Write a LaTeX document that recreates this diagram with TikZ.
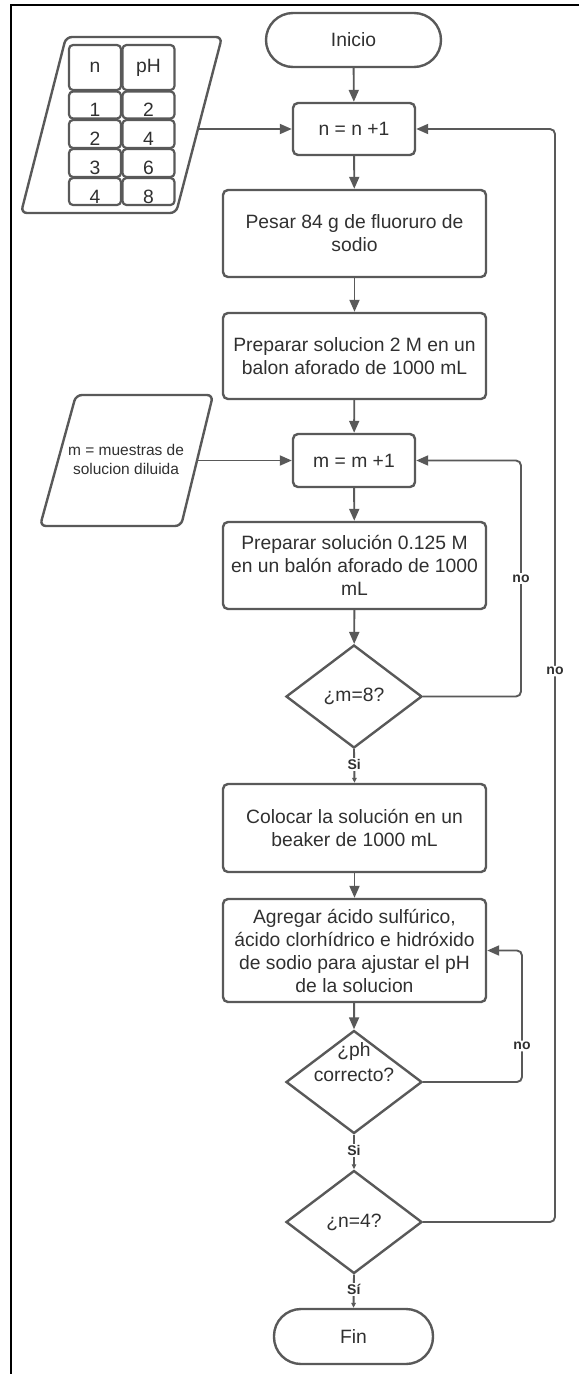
\documentclass[tikz,border=0pt]{standalone}
\usepackage{fontspec}
\setmainfont{Liberation Sans}
\usetikzlibrary{shapes.geometric,arrows.meta}
\definecolor{ink}{HTML}{303030}
\definecolor{edge}{HTML}{595959}
\begin{document}
\begin{tikzpicture}[x=1pt,y=-1pt,
  every node/.style={text=ink, font=\fontsize{19.3}{23}\selectfont},
  proc/.style={draw=edge, line width=2.4pt, rounded corners=5pt, align=center, inner sep=0pt},
  wide/.style={proc, minimum width=263pt},
  small/.style={proc, minimum width=122pt, minimum height=52pt},
  term/.style={draw=edge, line width=2.4pt, rounded corners=27pt, minimum height=54pt, inner sep=0pt},
  dec/.style={draw=edge, line width=2.4pt, diamond, aspect=1.32, minimum width=136pt, minimum height=103pt, inner sep=0pt},
  cell/.style={draw=edge, line width=2.2pt, rounded corners=4pt, minimum width=52pt, inner sep=0pt},
  num/.style={yshift=-5pt},
  flow/.style={draw=edge, line width=1.9pt, -{Triangle[length=12pt,width=10pt]}},
  flowsmall/.style={draw=edge, line width=1.9pt, -{Triangle[length=5pt,width=4.5pt]}},
  loopback/.style={flow, rounded corners=5pt},
  lbl/.style={fill=white, font=\bfseries\fontsize{14}{16}\selectfont, inner sep=1.5pt},
  iobox/.style={draw=edge, line width=2.4pt, rounded corners=6pt}
]
\useasboundingbox (0,0) rectangle (579,1374);

% frame
\draw[black, line width=2.4pt] (579,5) -- (11,5) -- (11,1374);

% data table input
\draw[iobox] (21,213) -- (66,37) -- (222,37) -- (176,213) -- cycle;
\coordinate (tp) at (199,129);
\node[cell, minimum height=45pt] (h1) at (95,67.5) {n};
\node[cell, minimum height=45pt] (h2) at (148.5,67.5) {pH};
\node[cell, minimum height=27pt, label={[num]center:1}] (a1) at (95,105) {};
\node[cell, minimum height=27pt, label={[num]center:2}] (b1) at (148.5,105) {};
\node[cell, minimum height=28pt, label={[num]center:2}] (a2) at (95,134) {};
\node[cell, minimum height=28pt, label={[num]center:4}] (b2) at (148.5,134) {};
\node[cell, minimum height=28pt, label={[num]center:3}] (a3) at (95,163) {};
\node[cell, minimum height=28pt, label={[num]center:6}] (b3) at (148.5,163) {};
\node[cell, minimum height=27pt, label={[num]center:4}] (a4) at (95,191.5) {};
\node[cell, minimum height=27pt, label={[num]center:8}] (b4) at (148.5,191.5) {};

% sample input
\draw[iobox] (40,526) -- (76,395) -- (213,395) -- (181,526) -- cycle;
\coordinate (mp) at (198,460.5);
\node[font=\fontsize{15.5}{19}\selectfont, align=center] (mtext) at (126,459) {m = muestras de\\solucion diluida};

% main column
\node[term, minimum width=175pt] (ini) at (353.5,40) {Inicio};
\node[small] (n) at (354,129) {n = n +1};
\node[wide, minimum height=87pt] (pesar) at (354.5,233.5) {Pesar 84 g de fluoruro de\\sodio};
\node[wide, minimum height=86pt] (prep2) at (354.5,356) {Preparar solucion 2 M en un\\balon aforado de 1000 mL};
\node[small, minimum height=53pt] (m) at (354,460.5) {m = m +1};
\node[wide, minimum height=87pt] (prep3) at (354.5,565.5) {Preparar solución 0.125 M\\en un balón aforado de 1000\\mL};
\node[dec] (d1) at (354,696.5) {¿m=8?};
\node[wide, minimum height=88pt] (colocar) at (354.5,828) {Colocar la solución en un\\beaker de 1000 mL};
\node[wide, minimum height=103pt] (agregar) at (354.5,950.5) {Agregar ácido sulfúrico,\\ácido clorhídrico e hidróxido\\de sodio para ajustar el pH\\de la solucion};
\node[dec] (d2) at (354,1082) {};
\node[align=center, font=\fontsize{19.3}{25}\selectfont] (d2t) at (354,1062) {¿ph\\correcto?};
\node[dec] (d3) at (354,1222) {¿n=4?};
\node[term, minimum width=159pt, minimum height=55pt] (fin) at (353.5,1336.5) {Fin};

% connectors
\draw[flow] (ini) -- (n);
\draw[flow] (tp) -- (n.west);
\draw[flow] (n) -- (pesar);
\draw[flow] (pesar) -- (prep2);
\draw[flow] (prep2) -- (m);
\draw[flow] (mp) -- (m.west);
\draw[flow] (m) -- (prep3);
\draw[flow] (prep3) -- (d1);
\draw[flowsmall] (d1.south) -- node[lbl, pos=0.45] {Si} (colocar.north);
\draw[flow] (colocar) -- (agregar);
\draw[flow] (agregar) -- (d2.north);
\draw[flowsmall] (d2.south) -- node[lbl, pos=0.45] {Si} (d3.north);
\draw[flowsmall] (d3.south) -- node[lbl, pos=0.45] {Sí} (fin.north);

% loop-backs
\coordinate (k1) at (521,0);
\coordinate (k2) at (522,0);
\coordinate (k3) at (555,0);
\draw[loopback] (d1.east) -| node[lbl, pos=0.75] {no} (k1 |- m.east) -- (m.east);
\draw[loopback] (d2.east) -| node[lbl, pos=0.637] {no} (k2 |- agregar.east) -- (agregar.east);
\draw[loopback] (d3.east) -| node[lbl, pos=0.752] {no} (k3 |- n.east) -- (n.east);
\end{tikzpicture}
\end{document}
